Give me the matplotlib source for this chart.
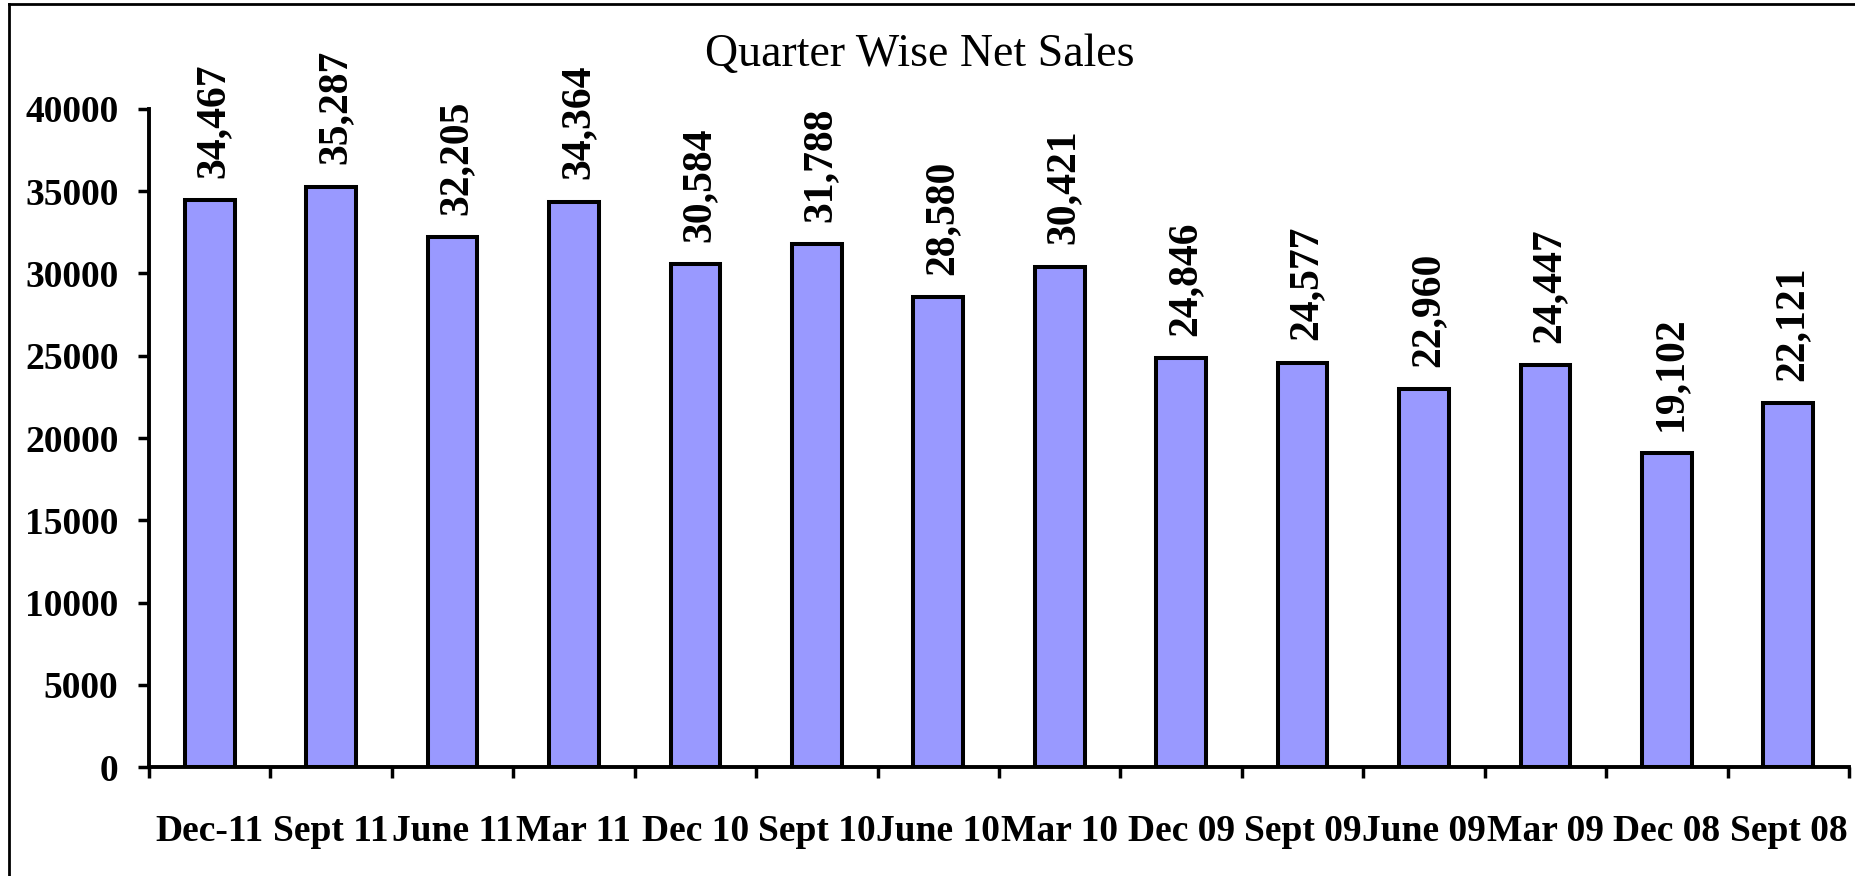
import matplotlib
matplotlib.use("Agg")
import matplotlib.pyplot as plt
from matplotlib.lines import Line2D
import numpy as np

quarters = ["Dec-11", "Sept 11", "June 11", "Mar 11", "Dec 10", "Sept 10", "June 10",
            "Mar 10", "Dec 09", "Sept 09", "June 09", "Mar 09", "Dec 08", "Sept 08"]
net_sales = [34467, 35287, 32205, 34364, 30584, 31788, 28580,
             30421, 24846, 24577, 22960, 24447, 19102, 22121]
y_ticks = [0, 5000, 10000, 15000, 20000, 25000, 30000, 35000, 40000]

serif = ["Liberation Serif", "DejaVu Serif"]

fig = plt.figure(figsize=(18.55, 8.76), dpi=100)
ax = fig.add_axes([0.0803, 0.1244, 0.9165, 0.7512])

x = np.arange(len(quarters))
ax.bar(x, net_sales, width=0.41, color="#9999FF", edgecolor="black", linewidth=2.9, zorder=2)

# value labels, rotated
for xi, v in zip(x, net_sales):
    ax.annotate(f"{v:,}", (xi, v), xytext=(3, 16), textcoords="offset points",
                rotation=90, ha="center", va="bottom", fontsize=30,
                fontweight="bold", family=serif)

ax.set_xlim(-0.5, len(quarters) - 0.5)
ax.set_ylim(0, 40000)

ax.set_yticks(y_ticks)
ax.set_yticklabels([str(t) for t in y_ticks], fontsize=27, fontweight="bold", family=serif)
ax.tick_params(axis="y", direction="out", length=8, width=2.5, pad=14)

ax.set_xticks(x)
ax.set_xticklabels(quarters, fontsize=27, fontweight="bold", family=serif)
ax.set_xticks(np.arange(-0.5, len(quarters), 1.0), minor=True)
ax.tick_params(axis="x", which="major", length=0, pad=34)
ax.tick_params(axis="x", which="minor", direction="out", length=8, width=2.5)

for s in ["top", "right"]:
    ax.spines[s].set_visible(False)
for s in ["left", "bottom"]:
    ax.spines[s].set_linewidth(2.8)

fig.text(0.496, 0.938, "Quarter Wise Net Sales", ha="center", va="center",
         fontsize=33, family=serif)

# outer frame (left and top visible)
fig.add_artist(Line2D([0.0047, 0.0047], [0.0, 0.996], transform=fig.transFigure,
                      color="black", linewidth=2))
fig.add_artist(Line2D([0.0047, 1.0], [0.996, 0.996], transform=fig.transFigure,
                      color="black", linewidth=2))

fig.savefig("out.png", dpi=100)
